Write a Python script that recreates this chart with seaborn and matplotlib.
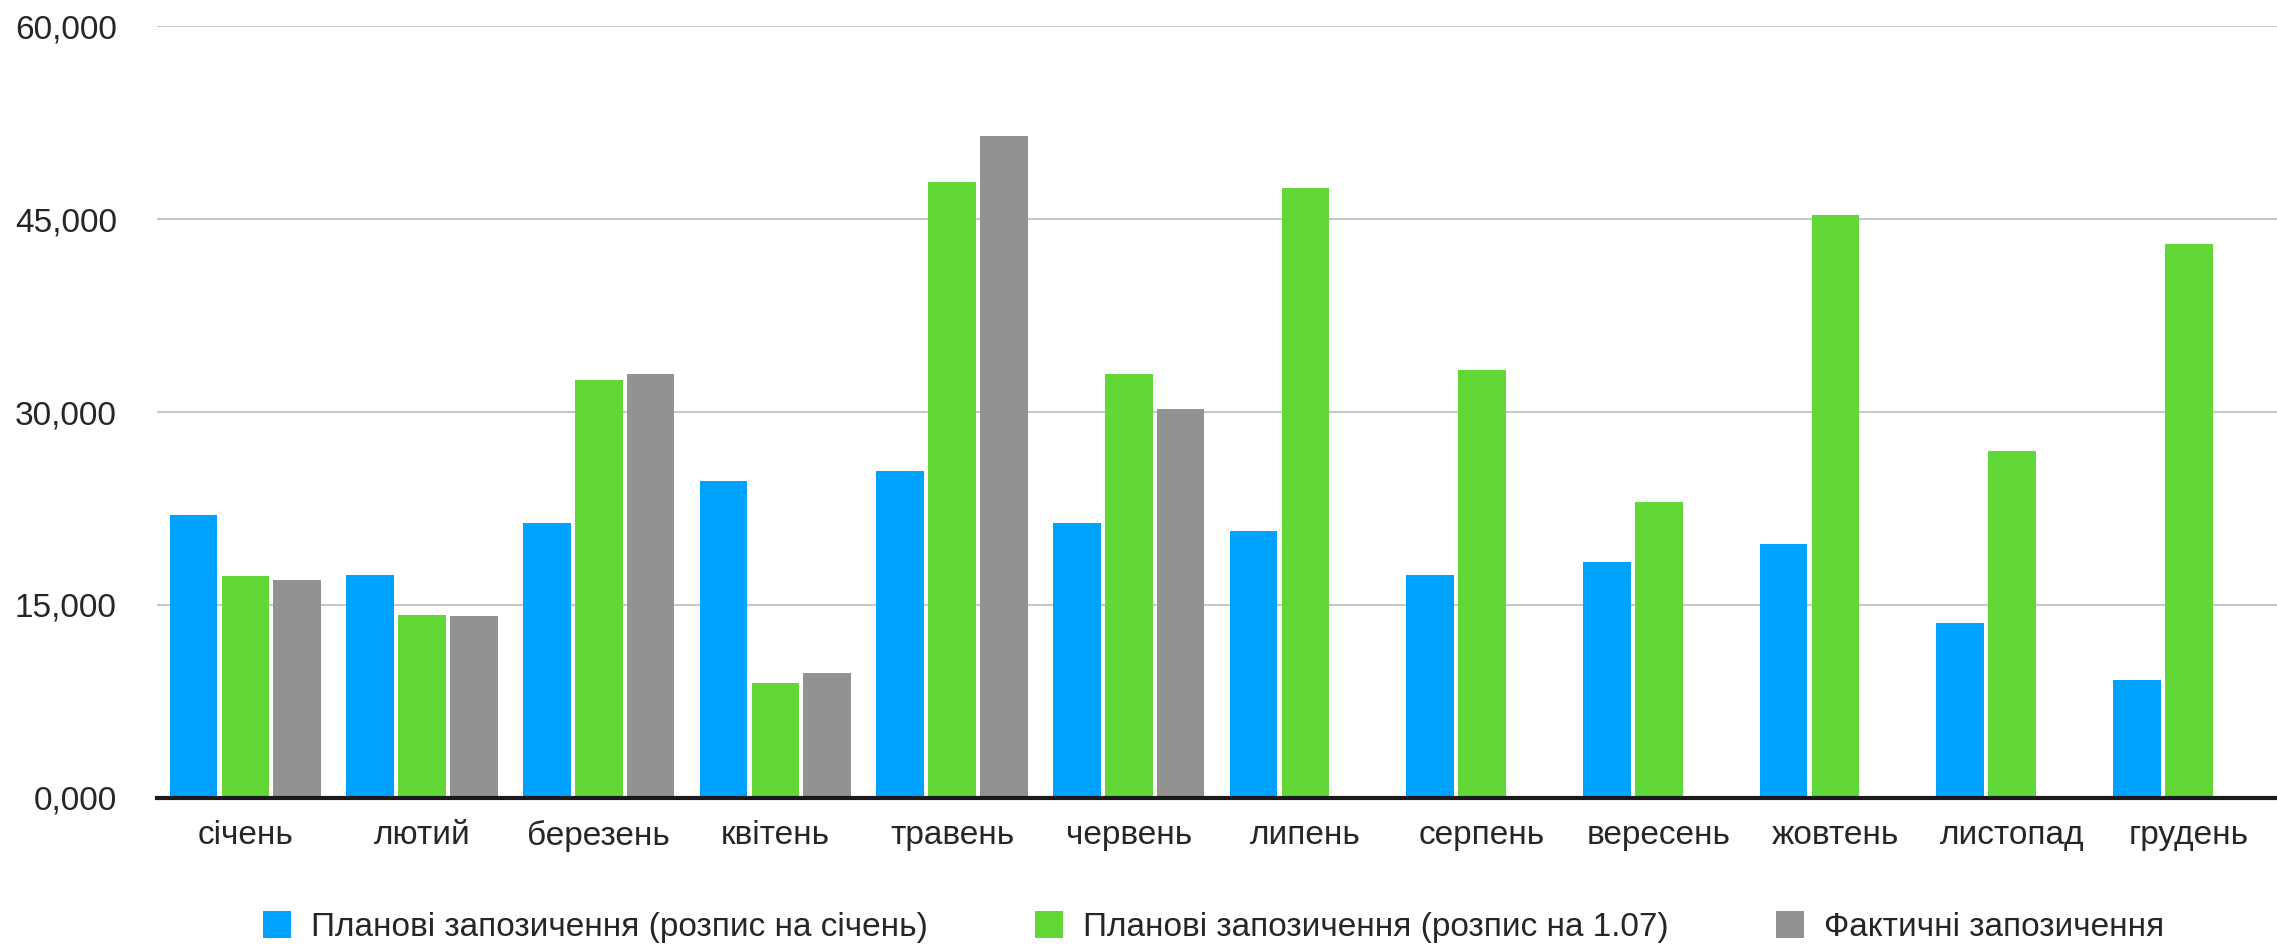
#%% import libs

import numpy as np
import pandas as pd
import matplotlib
matplotlib.use("Agg")
import matplotlib.pyplot as plt
import seaborn as sns

# %% data

months = ["січень", "лютий", "березень", "квітень", "травень", "червень",
          "липень", "серпень", "вересень", "жовтень", "листопад", "грудень"]

plan_jan = [21970, 17300, 21360, 24650, 25390, 21360,
            20760, 17300, 18320, 19700, 13600, 9140]
plan_jul = [17220, 14180, 32530, 8940, 47890, 32940,
            47400, 33270, 23030, 45330, 27000, 43050]
actual = [16900, 14100, 32940, 9710, 51500, 30260,
          np.nan, np.nan, np.nan, np.nan, np.nan, np.nan]

series_names = ["Планові запозичення (розпис на січень)",
                "Планові запозичення (розпис на 1.07)",
                "Фактичні запозичення"]
colors = ["#00A2FF", "#61D836", "#929292"]
yticks = [0, 15000, 30000, 45000, 60000]

df = pd.DataFrame({
    "month": months * 3,
    "series": [series_names[0]] * 12 + [series_names[1]] * 12 + [series_names[2]] * 12,
    "value": plan_jan + plan_jul + actual,
})

# %% plot

sns.set_style("white")
plt.rcParams["font.family"] = ["Liberation Sans", "DejaVu Sans"]

fig = plt.figure(figsize=(22.77, 9.44), dpi=100)
ax = fig.add_axes([0.069, 0.155, 0.931, 0.817])

sns.barplot(data=df, x="month", y="value", hue="series", order=months,
            hue_order=series_names, palette=colors, saturation=1,
            width=0.88, gap=0.08, linewidth=0, errorbar=None, ax=ax)

ax.set_xlim(-0.5, 11.5)
ax.set_ylim(0, 60000)
ax.set_yticks(yticks)
ax.set_yticklabels([f"{v // 1000},000" for v in yticks])
ax.yaxis.grid(True, color="#c8c8c8", linewidth=1.5)
ax.set_axisbelow(True)
ax.set_xlabel("")
ax.set_ylabel("")

for s in ["left", "right", "top"]:
    ax.spines[s].set_visible(False)
ax.spines["bottom"].set_color("#1a1a1a")
ax.spines["bottom"].set_linewidth(3)

ax.tick_params(axis="y", length=0, pad=29, labelsize=24)
ax.tick_params(axis="x", length=0, pad=16, labelsize=24)

# legend under the chart
handles, labels = ax.get_legend_handles_labels()
ax.legend_.remove()
fig.legend(handles, labels, loc="center", bbox_to_anchor=(0.533, 0.018),
           ncol=3, frameon=False, fontsize=24, handlelength=0.85,
           handleheight=0.85, handletextpad=0.6, columnspacing=3.2)

plt.savefig("out.png", dpi=100)
